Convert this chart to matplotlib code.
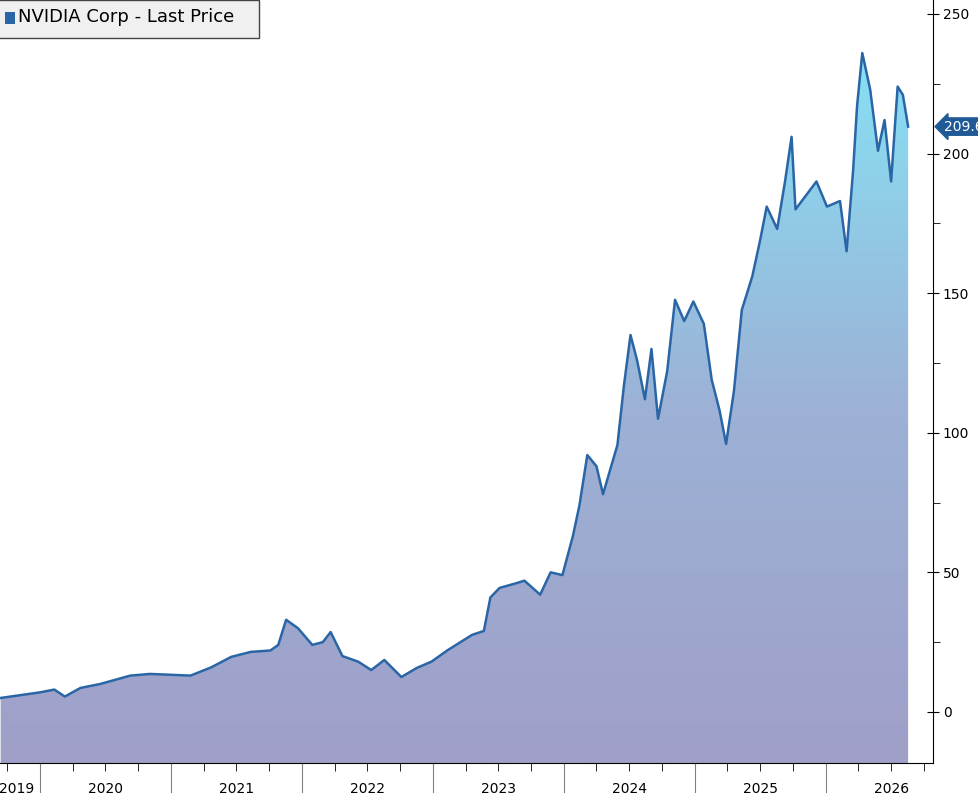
import numpy as np
import matplotlib.pyplot as plt
from matplotlib.patches import Polygon, Rectangle
from matplotlib.colors import LinearSegmentedColormap

# approximate points (decimal year, price)
dates = [2019.70, 2020.00, 2020.11, 2020.19, 2020.31, 2020.46, 2020.69, 2020.84, 2021.00,
         2021.15, 2021.31, 2021.46, 2021.61, 2021.76, 2021.82, 2021.88, 2021.97, 2022.08,
         2022.16, 2022.22, 2022.31, 2022.43, 2022.53, 2022.63, 2022.76, 2022.88, 2022.99,
         2023.11, 2023.30, 2023.39, 2023.44, 2023.51, 2023.63, 2023.70, 2023.82, 2023.90,
         2023.99, 2024.07, 2024.12, 2024.18, 2024.25, 2024.30, 2024.41, 2024.46, 2024.51,
         2024.56, 2024.62, 2024.67, 2024.72, 2024.79, 2024.85, 2024.92, 2024.99, 2025.07,
         2025.13, 2025.19, 2025.24, 2025.30, 2025.36, 2025.44, 2025.50, 2025.55, 2025.63,
         2025.69, 2025.74, 2025.77, 2025.85, 2025.93, 2026.01, 2026.11, 2026.16, 2026.21,
         2026.24, 2026.28, 2026.34, 2026.40, 2026.45, 2026.50, 2026.55, 2026.59, 2026.63]
prices = [5.0, 7.0, 8.0, 5.5, 8.6, 10.0, 13.0, 13.6, 13.3,
          13.0, 16.0, 19.7, 21.5, 22.0, 24.0, 33.0, 30.0, 24.0,
          25.0, 28.6, 20.0, 18.0, 15.0, 18.6, 12.5, 15.8, 18.0,
          22.0, 27.6, 29.0, 41.0, 44.4, 46.0, 47.0, 42.0, 50.0,
          49.0, 63.0, 74.0, 92.0, 88.0, 78.0, 95.6, 117.0, 135.0,
          126.0, 112.0, 130.0, 105.0, 122.0, 147.6, 140.0, 147.0, 139.0,
          119.0, 108.0, 96.0, 115.0, 144.0, 156.0, 169.0, 181.0, 173.0,
          190.0, 206.0, 180.0, 185.0, 190.0, 181.0, 183.0, 165.0, 194.0,
          217.0, 236.0, 223.0, 201.0, 212.0, 190.0, 224.0, 221.0, 209.66]
years = [2019, 2020, 2021, 2022, 2023, 2024, 2025, 2026]
last_price = 209.66

fig = plt.figure(figsize=(9.79, 7.93), dpi=100)
ax = fig.add_axes([0, 30/793, 933/979, 763/793])
xmin, xmax = 2019.695, 2026.82
ymin, ymax = -18.3, 255.0

# gradient area fill clipped to the price polygon
grad = np.linspace(0, 1, 256).reshape(-1, 1)
cmap = LinearSegmentedColormap.from_list("g", ["#a09fc8", "#9cb2d6", "#86e2f6"])
img = ax.imshow(grad, cmap=cmap, origin="lower", aspect="auto",
                extent=[xmin, xmax, ymin, 240], zorder=1)
poly = Polygon(list(zip(dates, prices)) + [(dates[-1], ymin), (dates[0], ymin)],
               closed=True, facecolor="none", edgecolor="none")
ax.add_patch(poly)
img.set_clip_path(poly)
ax.plot(dates, prices, color="#2a66a6", lw=1.8, zorder=3)

# axes styling
for s in ["top", "left"]:
    ax.spines[s].set_visible(False)
ax.yaxis.tick_right()
ax.set_yticks(np.arange(0, 251, 50))
ax.set_yticks(np.arange(25, 251, 50), minor=True)
ax.tick_params(axis="y", which="major", direction="inout", length=8, labelsize=10, pad=3)
ax.tick_params(axis="y", which="minor", direction="out", length=5)

ax.set_xticks([y + 1 for y in years[:-1]])
minor = [y + q / 4 for y in years for q in (1, 2, 3)]
ax.set_xticks([m for m in minor if xmin < m < xmax], minor=True)
ax.tick_params(axis="x", which="major", length=26, color="#808080", labelbottom=False)
ax.tick_params(axis="x", which="minor", length=6, color="black")
ax.set_xlim(xmin, xmax)
ax.set_ylim(ymin, ymax)
for y in years:
    xc = 2019.82 if y == 2019 else y + 0.5
    ax.annotate(str(y), xy=(xc, 0), xycoords=("data", "axes fraction"),
                xytext=(0, -19), textcoords="offset points", ha="center", va="center",
                fontsize=10)

# last price tag
ax.annotate(f"{last_price:.2f}", xy=(1.0, last_price), xycoords=("axes fraction", "data"),
            xytext=(8, 0), textcoords="offset points", ha="left", va="center",
            fontsize=10, color="white", annotation_clip=False,
            bbox=dict(boxstyle="larrow,pad=0.12", fc="#1f5a96", ec="#1f5a96"))

# legend box
fig.patches.append(Rectangle((-0.01, 1 - 38/793), 259/979 + 0.01, 38/793, transform=fig.transFigure,
                             fc="#f0f0f0", ec="#444444", lw=1))
fig.patches.append(Rectangle((5/979, 1 - 24/793), 10/979, 12/793, transform=fig.transFigure,
                             fc="#2a66a6", ec="none"))
fig.text(18/979, 1 - 17/793, "NVIDIA Corp - Last Price", fontsize=13, va="center", ha="left")

fig.savefig("out.png", dpi=100)
